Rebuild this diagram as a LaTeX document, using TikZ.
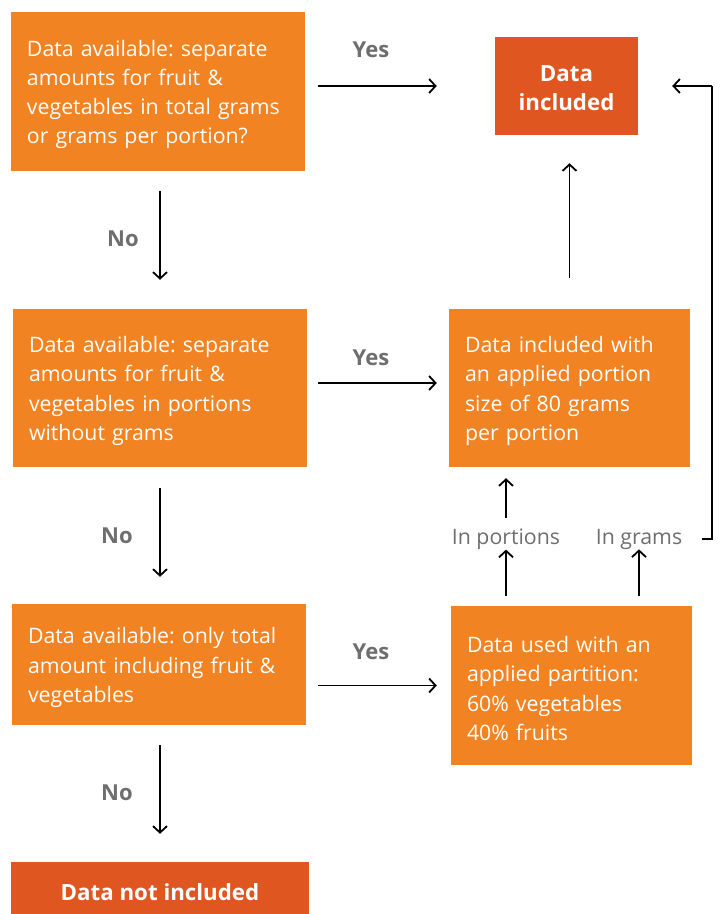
\documentclass[tikz,border=0pt]{standalone}
\usepackage{fontspec}
\setmainfont{Open Sans}
\frenchspacing
\usetikzlibrary{arrows.meta,calc}
\definecolor{boxor}{HTML}{F28322}
\definecolor{boxdk}{HTML}{E05620}
\definecolor{lblgray}{HTML}{6E6E6E}
\newcommand{\dropby}[1]{\par\vspace*{-#1}}
\begin{document}
\begin{tikzpicture}[x=1pt,y=-1pt,
  every node/.style={font=\fontsize{21.3}{29.3}\selectfont},
  qbox/.style={fill=boxor,text=white,inner xsep=16pt,inner ysep=0pt,align=left,
    anchor=center},
  endbox/.style={fill=boxdk,text=white,inner sep=0pt,align=center,
    font=\fontsize{22.3}{28.5}\selectfont\bfseries},
  yn/.style={text=lblgray,font=\fontsize{22}{24}\selectfont\bfseries},
  sub/.style={text=lblgray,inner sep=2pt},
  conn/.style={draw=black,line width=1.8pt,-{Straight Barb[length=6.5pt,width=14pt,line width=1.8pt]}},
  plain/.style={draw=black,line width=1.8pt}
]
\useasboundingbox (0,0) rectangle (721,914);
% boxes
\node[qbox,text width=262pt,minimum height=159pt] (b1) at (158,91.5)
  {Data available: separate\\amounts for fruit \&\\vegetables in total grams\\or grams per portion?\dropby{6pt}};
\node[endbox,text width=143pt,minimum height=98pt] (di) at (566.5,86) {Data\\included\dropby{4pt}};
\node[qbox,text width=262pt,minimum height=158pt] (b2) at (160,388)
  {Data available: separate\\amounts for fruit \&\\vegetables in portions\\without grams\dropby{6pt}};
\node[qbox,text width=209pt,minimum height=158pt] (rm) at (569.5,388)
  {Data included with\\an applied portion\\size of 80 grams\\per portion\dropby{6pt}};
\node[qbox,text width=262pt,minimum height=121pt] (b3) at (159,664.5)
  {Data available: only total\\amount including fruit \&\\vegetables\dropby{6pt}};
\node[qbox,text width=209pt,minimum height=159pt] (rb) at (571.5,685.5)
  {Data used with an\\applied partition:\\60\% vegetables\\40\% fruits\dropby{6pt}};
\node[endbox,align=none,minimum width=298pt,minimum height=52pt,text height=24pt,text depth=0pt] (dni) at (160,888) {Data not included};
% sub labels
\node[sub] (ip) at (506,539) {In portions};
\node[sub] (ig) at (639,539) {In grams};
% yes/no labels
\node[yn] (y1) at (371,50) {Yes};
\node[yn] (y2) at (371,358) {Yes};
\node[yn] (y3) at (371,652) {Yes};
\node[yn] (n1) at (123,239) {No};
\node[yn] (n2) at (117,536) {No};
\node[yn] (n3) at (117,793) {No};
% horizontal yes arrows
\draw[conn,shorten <=13pt,shorten >=58pt] (b1.east |- di.west) -- (di.west);
\draw[conn,shorten <=11pt,shorten >=12pt] ([yshift=5pt]b2.east) -- ([yshift=5pt]rm.west);
\draw[conn,shorten <=12pt,shorten >=14pt] (b3.east |- rb.west) -- (rb.west);
% down no arrows
\draw[conn,shorten <=20pt,shorten >=29pt] (b2.north |- b1.south) -- (b2.north);
\draw[conn,shorten <=21pt,shorten >=27pt] (b2.south) -- (b2.south |- b3.north);
\draw[conn,shorten <=20pt,shorten >=28pt] (b2.south |- b3.south) -- (dni.north);
% up arrow to data included
\draw[conn,shorten <=31pt,shorten >=28pt] (rm.north) -- (rm.north |- di.south);
% portions / grams
\draw[conn,shorten <=10pt,shorten >=-2pt] (rb.north -| ip) -- (ip.south);
\draw[conn,shorten <=8pt,shorten >=11pt] (ip.north) -- (ip.north |- rm.south);
\draw[conn,shorten <=10pt,shorten >=-2pt] (rb.north -| ig) -- (ig.south);
\coordinate (c1) at (712,539);
\coordinate (c2) at (712,86);
\draw[plain] (702,539) -- (c1) -- (c2);
\draw[conn,shorten >=34pt] (c2) -- (di.east);
\end{tikzpicture}
\end{document}
